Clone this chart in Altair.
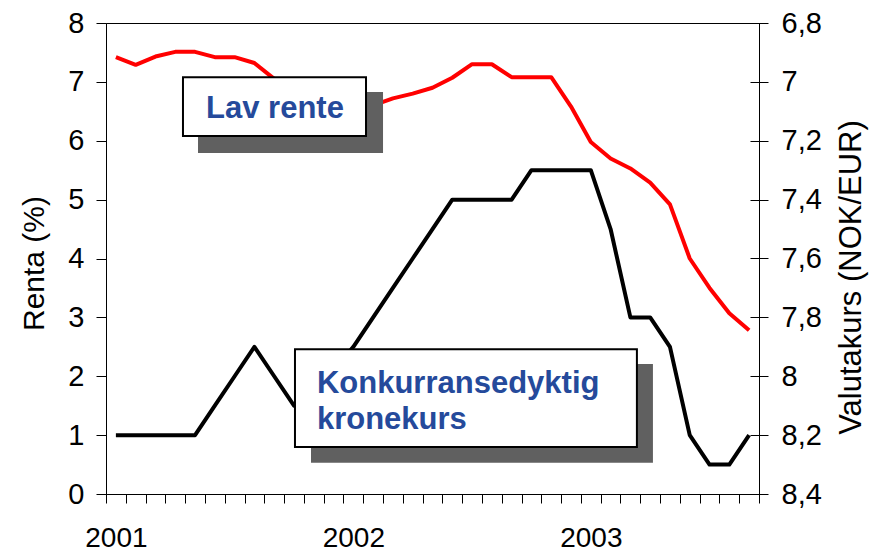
import altair as alt
import pandas as pd

# ---- data ----
month_idx = list(range(33))  # Jan 2001 .. Sep 2003
renta = [7.42, 7.29, 7.43, 7.51, 7.51, 7.42, 7.42, 7.32, 7.05, 6.9, 6.75, 6.6,
         6.55, 6.6, 6.72, 6.8, 6.9, 7.07, 7.3, 7.3, 7.08, 7.08, 7.08, 6.58,
         5.98, 5.7, 5.53, 5.29, 4.92, 4.0, 3.5, 3.07, 2.78]
kurs = [8.2, 8.2, 8.2, 8.2, 8.2, 8.1, 8.0, 7.9, 8.0, 8.1, 8.04, 7.98,
        7.9, 7.8, 7.7, 7.6, 7.5, 7.4, 7.4, 7.4, 7.4, 7.3, 7.3, 7.3,
        7.3, 7.5, 7.8, 7.8, 7.9, 8.2, 8.3, 8.3, 8.2]
year_labels = ["2001", "2002", "2003"]
year_first_month = [0, 12, 24]
left_ticks = [0, 1, 2, 3, 4, 5, 6, 7, 8]
right_ticks = [6.8, 7.0, 7.2, 7.4, 7.6, 7.8, 8.0, 8.2, 8.4]

# annotation boxes (in data units: month index / percent)
box_names = ["Lav rente", "Konkurransedyktig"]
box_x0 = [3.39, 9.05]
box_x1 = [12.64, 26.33]
box_y0 = [6.08, 0.80]
box_y1 = [7.08, 2.46]
shadow_x0 = [4.15, 9.86]
shadow_x1 = [13.50, 27.14]
shadow_y0 = [5.79, 0.53]
shadow_y1 = [6.83, 2.21]
text_lines = ["Lav rente", "Konkurransedyktig", "kronekurs"]
text_x = [8.04, 10.16, 10.16]
text_y = [6.39, 1.72, 1.10]
text_align = ["center", "left", "left"]

df = pd.DataFrame({"i": month_idx, "renta": renta, "kurs": kurs})
boxes = pd.DataFrame({"name": box_names, "x0": box_x0, "x1": box_x1,
                      "y0": box_y0, "y1": box_y1})
shadows = pd.DataFrame({"name": box_names, "x0": shadow_x0, "x1": shadow_x1,
                        "y0": shadow_y0, "y1": shadow_y1})
texts = pd.DataFrame({"t": text_lines, "x": text_x, "y": text_y, "a": text_align})

FONT = "Liberation Sans"
W, H = 653, 471

tick_vals = [m - 0.5 for m in month_idx] + [month_idx[-1] + 0.5]
label_expr = " : ".join(
    f"datum.value == {m - 0.5} ? '{y}'" for m, y in zip(year_first_month, year_labels)
) + " : ''"

x_scale = alt.Scale(domain=[-0.5, 32.5], nice=False, zero=False)
x_axis = alt.Axis(values=tick_vals, labelExpr=label_expr, title=None,
                  tickSize=9, tickColor="black", domainColor="black",
                  labelFont=FONT, labelFontSize=28, labelColor="black",
                  labelOffset=9.9, labelPadding=21, labelOverlap=False,
                  labelFlush=False, labelBound=False, grid=False)

left_scale = alt.Scale(domain=[0, 8], nice=False, zero=False)
right_scale = alt.Scale(domain=[6.8, 8.4], nice=False, zero=False, reverse=True)

red = alt.Chart(df).mark_line(color="#ff0000", strokeWidth=4, strokeJoin="round").encode(
    x=alt.X("i:Q", scale=x_scale, axis=x_axis),
    y=alt.Y("renta:Q", scale=left_scale,
            axis=alt.Axis(orient="left", values=left_ticks, title="Renta (%)",
                          tickSize=10, tickColor="black", domainColor="black",
                          labelFont=FONT, labelFontSize=29, labelColor="black",
                          labelPadding=12, grid=False,
                          titleFont=FONT, titleFontSize=30, titleFontWeight="normal",
                          titleColor="black", titleAngle=270, titleX=-72,
                          titleY=240, titleAlign="center", titleBaseline="middle")),
)

black = alt.Chart(df).mark_line(color="black", strokeWidth=4, strokeJoin="round").encode(
    x=alt.X("i:Q", scale=x_scale, axis=x_axis),
    y=alt.Y("kurs:Q", scale=right_scale,
            axis=alt.Axis(orient="right", values=right_ticks,
                          title="Valutakurs  (NOK/EUR)",
                          labelExpr="replace(format(datum.value, '~g'), '.', ',')",
                          offset=-9, domain=False,
                          tickSize=18, tickColor="black",
                          labelFont=FONT, labelFontSize=29, labelColor="black",
                          labelPadding=13, grid=False,
                          titleFont=FONT, titleFontSize=31, titleFontWeight="normal",
                          titleColor="black", titleAngle=270, titleX=101,
                          titleY=254, titleAlign="center", titleBaseline="middle")),
)

ann_y_scale = alt.Scale(domain=[0, 8], nice=False, zero=False)

shadow_layer = alt.Chart(shadows).mark_rect(color="#606060").encode(
    x=alt.X("x0:Q", scale=x_scale, axis=x_axis), x2="x1:Q",
    y=alt.Y("y0:Q", scale=ann_y_scale, axis=None), y2="y1:Q",
)
box_layer = alt.Chart(boxes).mark_rect(fill="white", stroke="black", strokeWidth=2).encode(
    x=alt.X("x0:Q", scale=x_scale, axis=x_axis), x2="x1:Q",
    y=alt.Y("y0:Q", scale=ann_y_scale, axis=None), y2="y1:Q",
)
text_center = alt.Chart(texts[texts.a == "center"]).mark_text(
    font=FONT, fontSize=31, fontWeight="bold", color="#254A9B",
    align="center", baseline="alphabetic").encode(
    x=alt.X("x:Q", scale=x_scale, axis=x_axis),
    y=alt.Y("y:Q", scale=ann_y_scale, axis=None),
    text="t:N",
)
text_left = alt.Chart(texts[texts.a == "left"]).mark_text(
    font=FONT, fontSize=31, fontWeight="bold", color="#254A9B",
    align="left", baseline="alphabetic").encode(
    x=alt.X("x:Q", scale=x_scale, axis=x_axis),
    y=alt.Y("y:Q", scale=ann_y_scale, axis=None),
    text="t:N",
)

chart = alt.layer(red, black, shadow_layer, box_layer, text_center, text_left).resolve_scale(
    y="independent"
).properties(
    width=W, height=H,
    autosize=alt.AutoSizeParams(type="none"),
    padding={"left": 98, "top": 15, "right": 110, "bottom": 60},
    background="white",
).configure_view(stroke="black", strokeWidth=1)

chart.save("out.html", embed_options={"renderer": "svg", "actions": False})
